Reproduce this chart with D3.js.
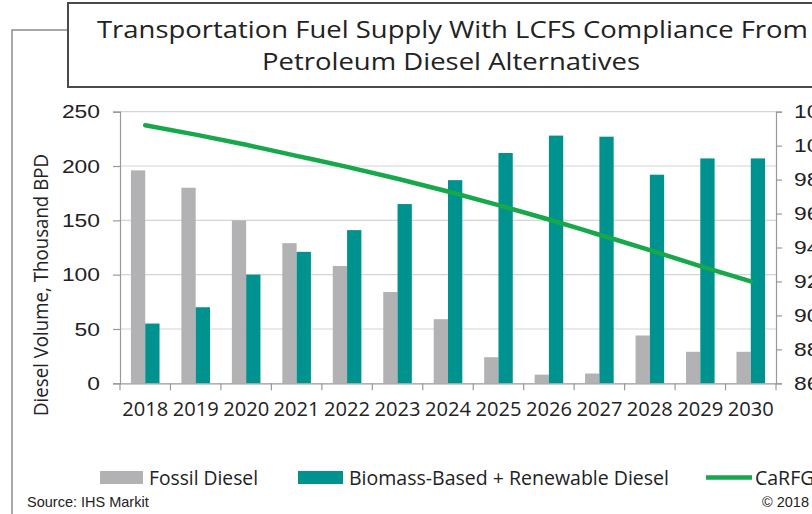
<!DOCTYPE html>
<html>
<head>
<meta charset="utf-8">
<script src="https://cdn.jsdelivr.net/npm/d3@7"></script>
<style>
  html, body { margin: 0; padding: 0; background: #fff; overflow: hidden; }
  svg { display: block; }
</style>
</head>
<body>
<svg id="chart" width="812" height="514"></svg>
<script>
// ---- data ----
const years = ["2018","2019","2020","2021","2022","2023","2024","2025","2026","2027","2028","2029","2030"];
const fossilDiesel = [196, 180, 150, 129, 108, 84, 59, 24, 8, 9, 44, 29, 29];
const biomassRenewable = [55, 70, 100, 121, 141, 165, 187, 212, 228, 227, 192, 207, 207];
const carfgIntensity = [101.2, 100.65, 100.05, 99.4, 98.75, 98.05, 97.3, 96.5, 95.65, 94.75, 93.85, 92.9, 92.0];
const leftTicks = [0, 50, 100, 150, 200, 250];
const rightTicks = [86, 88, 90, 92, 94, 96, 98, 100, 102];
const seriesNames = ["Fossil Diesel", "Biomass-Based + Renewable Diesel", "CaRFG Carbon Intensity (right axis)"];
const titleLines = ["Transportation Fuel Supply With LCFS Compliance From", "Petroleum Diesel Alternatives"];
const yTitle = "Diesel Volume, Thousand BPD";
const sourceText = "Source: IHS Markit";
const copyrightText = "© 2018 IHS Markit";

// ---- styling ----
const colFossil = "#b2b2b4";
const colBio = "#00928f";
const colLine = "#16a84b";
const svg = d3.select("#chart");

const plot = { left: 120, right: 776, top: 111.7, bottom: 383.3 };

const x = d3.scaleBand().domain(years).range([plot.left, plot.right]).padding(0);
const xi = d3.scaleBand().domain(["fossil", "bio"]).range([0, x.bandwidth()]).paddingInner(0).paddingOuter(0.765);
const yL = d3.scaleLinear().domain([0, 250]).range([plot.bottom, plot.top]);
const yR = d3.scaleLinear().domain([86, 102]).range([plot.bottom, plot.top]);

// outer frame line + connector
svg.append("path")
  .attr("d", "M12,520 L12,30 L68,30")
  .attr("fill", "none").attr("stroke", "#8c8c8c").attr("stroke-width", 1.5);

// title box
svg.append("rect")
  .attr("x", 68).attr("y", 3).attr("width", 800).attr("height", 84)
  .attr("fill", "#fff").attr("stroke", "#4a4a4a").attr("stroke-width", 2);
const tl = svg.append("g").attr("font-family", "'Open Sans', sans-serif").attr("font-size", 23).attr("fill", "#222");
tl.append("text").attr("x", 97).attr("y", 38).attr("textLength", 711).attr("lengthAdjust", "spacingAndGlyphs").text(titleLines[0]);
tl.append("text").attr("x", 262).attr("y", 70).attr("textLength", 378).attr("lengthAdjust", "spacingAndGlyphs").text(titleLines[1]);

// gridlines
svg.append("g").selectAll("line").data(leftTicks.filter(d => d > 0)).join("line")
  .attr("x1", plot.left).attr("x2", plot.right)
  .attr("y1", d => yL(d)).attr("y2", d => yL(d))
  .attr("stroke", "#d4d4d4").attr("stroke-width", 1.2);

// bars
const bars = svg.append("g");
bars.selectAll("rect.f").data(years).join("rect").attr("class", "f")
  .attr("x", d => x(d) + xi("fossil")).attr("width", xi.bandwidth())
  .attr("y", (d, i) => yL(fossilDiesel[i])).attr("height", (d, i) => yL(0) - yL(fossilDiesel[i]))
  .attr("fill", colFossil);
bars.selectAll("rect.b").data(years).join("rect").attr("class", "b")
  .attr("x", d => x(d) + xi("bio")).attr("width", xi.bandwidth())
  .attr("y", (d, i) => yL(biomassRenewable[i])).attr("height", (d, i) => yL(0) - yL(biomassRenewable[i]))
  .attr("fill", colBio);

// left axis
const axL = svg.append("g").attr("transform", `translate(${plot.left},0)`)
  .call(d3.axisLeft(yL).tickValues(leftTicks).tickSize(7).tickPadding(13));
axL.select(".domain").attr("stroke", "#999").attr("stroke-width", 1.2);
axL.selectAll(".tick line").attr("stroke", "#999").attr("stroke-width", 1.2);
axL.selectAll(".tick text").attr("font-family", "'Liberation Sans', Arial, sans-serif")
  .attr("font-size", 19).attr("fill", "#222")
  .attr("textLength", d => String(d).length * 12.7).attr("lengthAdjust", "spacingAndGlyphs");

// right axis
const axR = svg.append("g").attr("transform", `translate(${plot.right},0)`)
  .call(d3.axisRight(yR).tickValues(rightTicks).tickSize(6).tickPadding(12));
axR.select(".domain").attr("stroke", "#999").attr("stroke-width", 1.2);
axR.selectAll(".tick line").attr("stroke", "#999").attr("stroke-width", 1.2);
axR.selectAll(".tick text").attr("font-family", "'Liberation Sans', Arial, sans-serif")
  .attr("font-size", 19).attr("fill", "#222")
  .attr("textLength", d => String(d).length * 12.7).attr("lengthAdjust", "spacingAndGlyphs");

// bottom axis: baseline + boundary ticks + labels
const axB = svg.append("g").attr("transform", `translate(0,${plot.bottom})`)
  .call(d3.axisBottom(x).tickSize(0).tickPadding(19));
axB.select(".domain").attr("stroke", "#999").attr("stroke-width", 1.2);
axB.selectAll(".tick text").attr("font-family", "'Open Sans', sans-serif")
  .attr("font-size", 19.5).attr("fill", "#222")
  .attr("textLength", 46).attr("lengthAdjust", "spacingAndGlyphs");
const bounds = years.map(d => x(d)).concat([x(years[years.length - 1]) + x.step()]);
axB.append("g").selectAll("line").data(bounds).join("line")
  .attr("x1", d => d).attr("x2", d => d).attr("y1", 0).attr("y2", 7)
  .attr("stroke", "#999").attr("stroke-width", 1.2);

// line
const line = d3.line().x((d, i) => x(years[i]) + x.bandwidth() / 2).y(d => yR(d)).curve(d3.curveMonotoneX);
svg.append("path").datum(carfgIntensity).attr("d", line)
  .attr("fill", "none").attr("stroke", colLine).attr("stroke-width", 4.5).attr("stroke-linecap", "round");

// y title
svg.append("text")
  .attr("transform", `translate(48,${285}) rotate(-90)`)
  .attr("text-anchor", "middle")
  .attr("font-family", "'Open Sans', sans-serif").attr("font-size", 19.5).attr("fill", "#222")
  .attr("textLength", 262).attr("lengthAdjust", "spacingAndGlyphs")
  .text(yTitle);

// legend
const lg = svg.append("g").attr("font-family", "'Open Sans', sans-serif").attr("font-size", 19.5).attr("fill", "#222");
lg.append("rect").attr("x", 100).attr("y", 471).attr("width", 43).attr("height", 13).attr("fill", colFossil);
lg.append("text").attr("x", 149).attr("y", 485).attr("textLength", 109).attr("lengthAdjust", "spacingAndGlyphs").text(seriesNames[0]);
lg.append("rect").attr("x", 298).attr("y", 471).attr("width", 45).attr("height", 13).attr("fill", colBio);
lg.append("text").attr("x", 349).attr("y", 485).attr("textLength", 320).attr("lengthAdjust", "spacingAndGlyphs").text(seriesNames[1]);
lg.append("line").attr("x1", 706).attr("x2", 752).attr("y1", 477.5).attr("y2", 477.5)
  .attr("stroke", colLine).attr("stroke-width", 4.5);
lg.append("text").attr("x", 755).attr("y", 485).text(seriesNames[2]);

// source + copyright
const ft = svg.append("g").attr("font-family", "'Liberation Sans', Arial, sans-serif").attr("font-size", 14.5).attr("fill", "#222");
ft.append("text").attr("x", 27).attr("y", 507).text(sourceText);
ft.append("text").attr("x", 762).attr("y", 507).text(copyrightText);
</script>
</body>
</html>
